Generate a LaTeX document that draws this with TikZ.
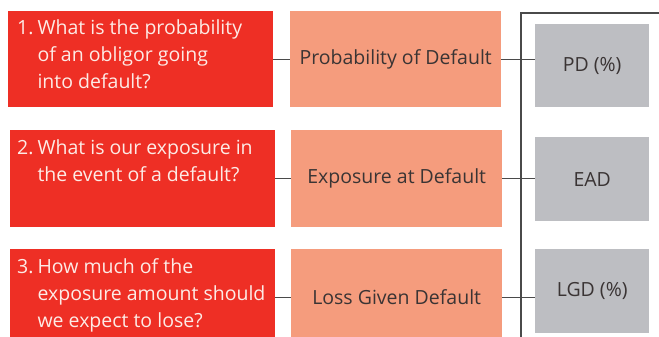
\documentclass[tikz,border=0pt]{standalone}
\usepackage{fontspec}
\setmainfont{Open Sans}
\definecolor{riskred}{HTML}{EE2F25}
\definecolor{risksalmon}{HTML}{F59C7D}
\definecolor{riskgray}{HTML}{BDBEC2}
\definecolor{riskink}{HTML}{3A3434}
\definecolor{riskpale}{HTML}{FDEBE6}
\definecolor{riskline}{HTML}{4A4A4A}
\tikzset{
  question/.style={fill=riskred,anchor=north west,inner sep=0pt,minimum width=265pt},
  qtext/.style={anchor=base west,inner sep=0pt,text=riskpale,font=\fontsize{19.5}{27}\selectfont},
  factor/.style={fill=risksalmon,anchor=north west,inner sep=0pt,minimum width=211pt,text=riskink,font=\fontsize{19.5}{22}\selectfont},
  measure/.style={fill=riskgray,anchor=north west,inner sep=0pt,minimum width=114pt,text=riskink,font=\fontsize{19.5}{22}\selectfont},
  bus/.style={draw=riskline,line width=1.1pt}
}
\newcommand{\qitem}[2]{\begin{tabular}[t]{@{}l@{\hspace{4pt}}l@{}}#1&#2\end{tabular}}
\begin{document}
\begin{tikzpicture}[x=1pt,y=-1pt]
\useasboundingbox (0,0) rectangle (659,337);
\clip (0,0) rectangle (659,337);
% question boxes
\node[question,minimum height=96pt] (q1) at (8,11) {};
\node[question,minimum height=97pt] (q2) at (10,130) {};
\node[question,minimum height=96pt] (q3) at (10,249) {};
\node[qtext] (t1) at ([shift={(9,24)}]q1.north west) {\qitem{1.}{What is the probability\\&of an obligor going\\&into default?}};
\node[qtext] (t2) at ([shift={(7,24)}]q2.north west) {\qitem{2.}{What is our exposure in\\&the event of a default?}};
\node[qtext] (t3) at ([shift={(7,24)}]q3.north west) {\qitem{3.}{How much of the\\&exposure amount should\\&we expect to lose?}};
% risk factors
\node[factor,minimum height=96pt] (f1) at (290,11) {Probability of Default};
\node[factor,minimum height=97pt] (f2) at (291,130) {Exposure at Default};
\node[factor,minimum height=96pt] (f3) at (291,249) {Loss Given Default};
% measures
\node[measure,minimum height=83pt] (m1) at (535,24) {PD (\%)};
\node[measure,minimum height=84pt] (m2) at (535,137) {EAD};
\node[measure,minimum height=84pt] (m3) at (535,249) {LGD (\%)};
% connectors
\coordinate (bustop) at (521,13);
\coordinate (busend) at (662,13);
\coordinate (busfoot) at (521,340);
\draw[bus] (busend) -- (bustop) -- (busfoot);
\foreach \i in {1,2,3}{
  \draw[bus] (q\i.east) -- (f\i.west);
  \draw[bus] (f\i.east) -- (f\i.east -| m\i.west);
}
\end{tikzpicture}
\end{document}
